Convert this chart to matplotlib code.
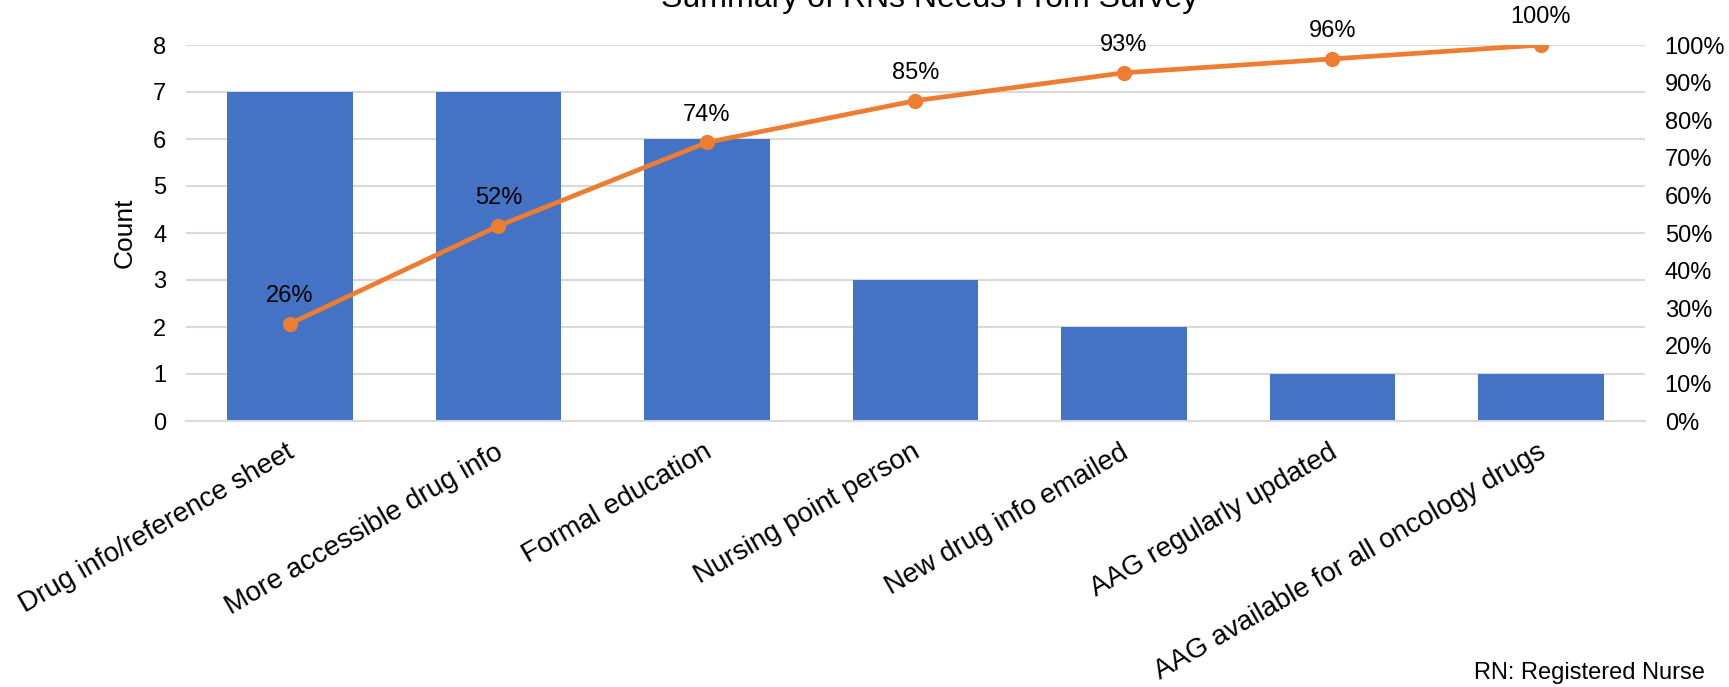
import matplotlib.pyplot as plt
import matplotlib.transforms as mtransforms
from matplotlib.ticker import FuncFormatter

plt.rcParams['font.family'] = ['Liberation Sans', 'DejaVu Sans']

# Data
categories = ['Drug info/reference sheet', 'More accessible drug info', 'Formal education',
              'Nursing point person', 'New drug info emailed', 'AAG regularly updated',
              'AAG available for all oncology drugs']
counts = [7, 7, 6, 3, 2, 1, 1]
cum_pct = [25.9, 51.9, 74.1, 85.2, 92.6, 96.3, 100.0]
pct_labels = ['26%', '52%', '74%', '85%', '93%', '96%', '100%']

bar_color = '#4472C4'
line_color = '#ED7D31'
grid_color = '#D9D9D9'

fig = plt.figure(figsize=(17.29, 6.87), dpi=100)
ax = fig.add_axes([185.75 / 1729, 1 - 421 / 687, 1459.5 / 1729, 376 / 687])

x = list(range(len(categories)))
ax.bar(x, counts, width=0.6, color=bar_color, zorder=2)
ax.set_xlim(-0.5, len(categories) - 0.5)
ax.set_ylim(0, 8)
ax.set_yticks(range(0, 9))
ax.grid(axis='y', color=grid_color, linewidth=1.5, zorder=0)
ax.set_axisbelow(True)
for s in ['top', 'right', 'left']:
    ax.spines[s].set_visible(False)
ax.spines['bottom'].set_color(grid_color)
ax.spines['bottom'].set_linewidth(1.5)
ax.tick_params(axis='y', length=0, pad=14, labelsize=17)
ax.tick_params(axis='x', length=0, pad=13, labelsize=20)
ax.set_ylabel('Count', fontsize=19, labelpad=12)

# rotated category labels, nudged so their ends sit near the tick
ax.set_xticks(x)
ax.set_xticklabels(categories, rotation=30, ha='right', va='top', rotation_mode='anchor')
offset = mtransforms.ScaledTranslation(-4 / 100, 0, fig.dpi_scale_trans)
for lbl in ax.get_xticklabels():
    lbl.set_transform(lbl.get_transform() + offset)

# cumulative percentage line on the right axis
ax2 = ax.twinx()
ax2.plot(x, cum_pct, color=line_color, linewidth=3.4, marker='o', markersize=10, zorder=3)
ax2.set_ylim(0, 100)
ax2.set_yticks(range(0, 101, 10))
ax2.yaxis.set_major_formatter(FuncFormatter(lambda v, p: f'{int(v)}%'))
ax2.tick_params(axis='y', length=0, pad=14, labelsize=17)
for s in ['top', 'right', 'left', 'bottom']:
    ax2.spines[s].set_visible(False)

for xi, yi, t in zip(x, cum_pct, pct_labels):
    ax2.annotate(t, (xi, yi), xytext=(0, 12), textcoords='offset points',
                 ha='center', va='bottom', fontsize=17)

fig.text(930 / 1729, 1 - 7 / 687, 'Summary of RNs Needs From Survey', ha='center',
         va='baseline', fontsize=23)
fig.text(1705 / 1729, 1 - 679 / 687, 'RN: Registered Nurse', ha='right', va='baseline',
         fontsize=17)

fig.savefig('out.png', dpi=100)
